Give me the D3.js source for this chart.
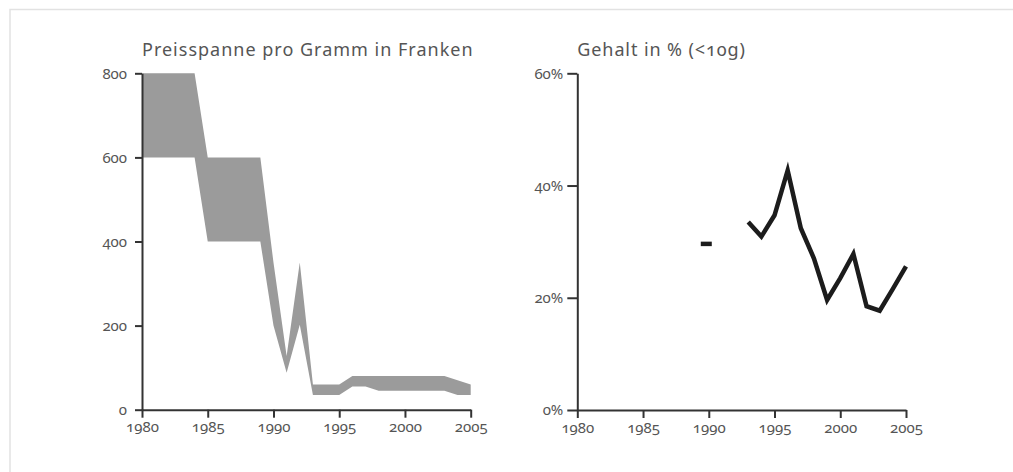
<!DOCTYPE html>
<html>
<head>
<meta charset="utf-8">
<script src="https://cdn.jsdelivr.net/npm/d3@7"></script>
<style>
  html, body { margin: 0; padding: 0; background: #fff; }
  svg { display: block; }
  text { font-family: "Noto Sans", sans-serif; fill: #555; font-variant-numeric: oldstyle-nums; font-feature-settings: "onum" 1; }
</style>
</head>
<body>
<svg id="chart" width="1013" height="472"></svg>
<script>
// ---- Data ----
const priceYears = [1980,1981,1982,1983,1984,1985,1986,1987,1988,1989,1990,1991,1992,1993,1994,1995,1996,1997,1998,1999,2000,2001,2002,2003,2004,2005];
const priceLow   = [600,600,600,600,600,400,400,400,400,400,200,88,202,35,35,35,55,55,45,45,45,45,45,45,35,35];
const priceHigh  = [800,800,800,800,800,600,600,600,600,600,350,128,350,60,60,60,80,80,80,80,80,80,80,80,70,60];

const shareYears  = [1990,1991,1992,1993,1994,1995,1996,1997,1998,1999,2000,2001,2002,2003,2004,2005];
const shareValues = [29.6,null,null,33.5,30.9,34.7,42.7,32.4,27.0,19.6,23.5,27.8,18.5,17.7,21.6,25.6];

const xTicks = [1980,1985,1990,1995,2000,2005];
const priceTicks = [0,200,400,600,800];
const shareTicks = [0,20,40,60];
const titles = ["Preisspanne pro Gramm in Franken", "Gehalt in % (<10g)"];

const svg = d3.select("#chart");

// frame
svg.append("path")
  .attr("d", "M10,472 L10,9.5 L1013,9.5")
  .attr("fill", "none").attr("stroke", "#e2e2e2").attr("stroke-width", 1.5);

function styleAxis(g) {
  g.select(".domain").attr("stroke", "#333").attr("stroke-width", 2);
  g.selectAll(".tick line").attr("stroke", "#333").attr("stroke-width", 2);
  g.selectAll(".tick text").style("font-size", "15px").attr("fill", "#555");
}

// ---- Left chart ----
const x1 = d3.scaleLinear().domain([1980, 2005]).range([142, 470.7]);
const y1 = d3.scaleLinear().domain([0, 800]).range([409.7, 73.3]);

const priceData = priceYears.map((yr, i) => ({yr, lo: priceLow[i], hi: priceHigh[i]}));
svg.append("path")
  .datum(priceData)
  .attr("fill", "#9b9b9b")
  .attr("d", d3.area().x(d => x1(d.yr)).y0(d => y1(d.lo)).y1(d => y1(d.hi)));

const gx1 = svg.append("g").attr("transform", `translate(0,${y1(0)})`)
  .call(d3.axisBottom(x1).tickValues(xTicks).tickFormat(d3.format("d")).tickSize(8).tickSizeOuter(0).tickPadding(4));
styleAxis(gx1);
const gy1 = svg.append("g").attr("transform", `translate(${x1(1980)},0)`)
  .call(d3.axisLeft(y1).tickValues(priceTicks).tickSize(7).tickSizeOuter(0).tickPadding(8));
styleAxis(gy1);

svg.append("text").attr("x", 142).attr("y", 55.5).style("font-size", "18px").style("letter-spacing", "1px").text(titles[0]);

// ---- Right chart ----
const x2 = d3.scaleLinear().domain([1980, 2005]).range([577.3, 906]);
const y2 = d3.scaleLinear().domain([0, 60]).range([410, 73.3]);

const shareData = shareYears.map((yr, i) => ({yr, v: shareValues[i]}));
const lineGen = d3.line().defined(d => d.v !== null).x(d => x2(d.yr)).y(d => y2(d.v));
svg.append("path")
  .datum(shareData)
  .attr("fill", "none").attr("stroke", "#1c1c1c").attr("stroke-width", 4.5)
  .attr("stroke-linejoin", "miter")
  .attr("d", lineGen);

// isolated points drawn as short dashes
shareData.forEach((d, i) => {
  const prev = shareData[i - 1], next = shareData[i + 1];
  if (d.v !== null && (!prev || prev.v === null) && (!next || next.v === null)) {
    svg.append("line")
      .attr("x1", x2(d.yr) - 8).attr("x2", x2(d.yr) + 3)
      .attr("y1", y2(d.v)).attr("y2", y2(d.v))
      .attr("stroke", "#1c1c1c").attr("stroke-width", 4.5);
  }
});

const gx2 = svg.append("g").attr("transform", `translate(0,${y2(0)})`)
  .call(d3.axisBottom(x2).tickValues(xTicks).tickFormat(d3.format("d")).tickSize(8).tickSizeOuter(0).tickPadding(4));
styleAxis(gx2);
const gy2 = svg.append("g").attr("transform", `translate(${x2(1980)},0)`)
  .call(d3.axisLeft(y2).tickValues(shareTicks).tickFormat(d => d + "%").tickSize(10).tickSizeOuter(0).tickPadding(4));
styleAxis(gy2);

svg.append("text").attr("x", 577.3).attr("y", 55.5).style("font-size", "18px").style("letter-spacing", "0.9px").text(titles[1]);
</script>
</body>
</html>
